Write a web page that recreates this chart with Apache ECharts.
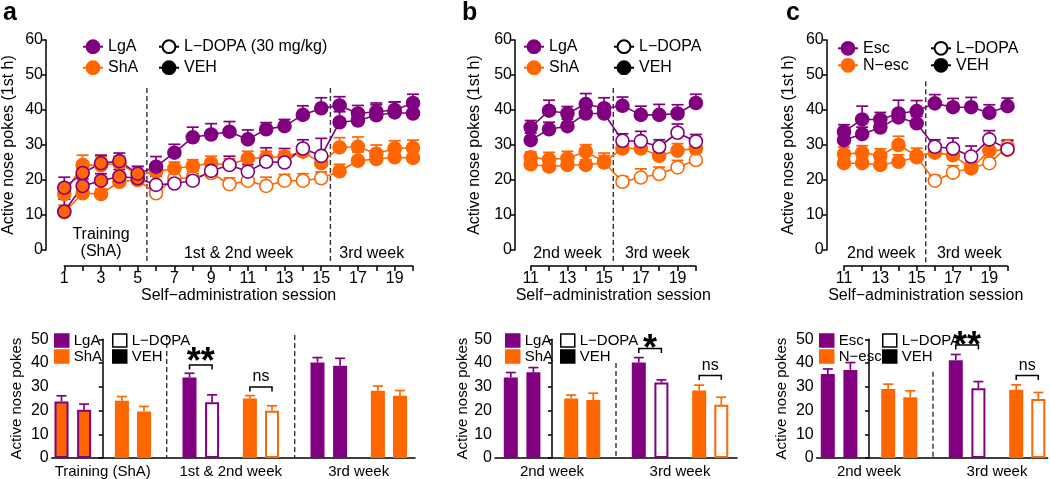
<!DOCTYPE html>
<html>
<head>
<meta charset="utf-8">
<script src="https://cdn.jsdelivr.net/npm/echarts@6.0.0/dist/echarts.min.js"></script>
<style>html,body{margin:0;padding:0;background:#fff;}#chart{width:1050px;height:479px;}</style>
</head>
<body>
<div id="chart"></div>
<script>
// ================= DATA =================
// Panel a (top) – sessions 1–20
const aSessions  = [1,2,3,4,5,6,7,8,9,10,11,12,13,14,15,16,17,18,19,20];
const aLgaVeh    = [17.8,22.0,24.8,25.4,21.8,23.8,27.8,32.2,33.0,33.8,31.6,34.5,35.4,38.6,40.5,41.3,39.0,39.5,40.0,42.0];
const aLgaVehSem = [3.0,2.5,2.3,2.3,2.0,2.9,2.4,2.9,3.1,2.9,2.7,1.9,1.9,2.6,3.0,2.5,2.3,2.5,2.3,2.5];
const aLgaLd     = [11.0,18.3,19.8,21.0,20.5,18.6,19.0,19.8,22.6,24.3,22.4,25.2,25.0,29.0,26.9,36.5,37.0,38.5,39.3,39.0];
const aLgaLdSem  = [3.5,2.0,2.0,2.0,2.0,2.5,2.0,2.0,3.0,2.5,2.0,4.0,4.0,2.5,5.0,3.0,3.0,3.0,3.0,3.0];
const aShaVeh    = [16.0,24.3,24.2,24.8,21.5,22.4,23.3,24.0,24.8,24.3,26.2,26.4,26.7,28.1,24.8,29.3,29.5,27.5,29.0,29.2];
const aShaVehSem = [2.0,2.8,2.5,2.0,2.5,1.5,1.8,1.8,2.0,1.8,2.0,1.8,1.5,1.5,2.0,2.8,2.8,2.5,2.2,2.2];
const aShaLd     = [10.8,16.2,16.0,19.5,20.0,16.2,20.5,20.5,22.0,18.8,19.8,18.3,19.8,19.8,20.5,22.5,25.5,26.0,26.5,26.3];
const aShaLdSem  = [2.0,1.5,1.5,1.5,1.5,1.5,2.0,2.0,2.0,1.8,1.8,2.5,1.8,2.0,1.8,2.0,2.5,2.5,2.5,2.5];
const aTrainingLast = 5;   // sessions 1–5 training (ShA)
const aTreatLast = 15;     // sessions 6–15 treatment

// Panel b (top) – sessions 11–20
const bSessions  = [11,12,13,14,15,16,17,18,19,20];
const bLgaVeh    = [35.0,39.8,39.0,41.7,40.5,41.2,38.6,38.6,39.0,42.0];
const bLgaVehSem = [2.0,3.0,2.0,3.0,3.0,2.5,2.5,3.0,2.5,2.5];
const bLgaLd     = [31.4,34.5,35.4,39.0,39.0,31.2,31.1,29.5,33.5,31.0];
const bLgaLdSem  = [2.0,2.0,2.0,2.5,2.0,2.0,2.8,2.0,2.5,2.0];
const bShaVeh    = [26.5,25.9,26.2,28.1,25.2,29.0,29.0,26.9,28.4,29.0];
const bShaVehSem = [1.5,2.0,2.0,2.0,2.5,2.0,2.0,2.8,2.0,2.5];
const bShaLd     = [24.5,23.8,24.3,24.3,25.0,19.5,20.7,21.7,23.6,25.7];
const bShaLdSem  = [2.0,2.0,2.0,1.5,2.0,1.5,2.5,2.0,2.0,2.0];

// Panel c (top) – sessions 11–20
const cSessions  = [11,12,13,14,15,16,17,18,19,20];
const cEscVeh    = [33.8,37.3,37.3,39.0,39.7,41.9,40.8,40.8,39.2,41.1];
const cEscVehSem = [2.0,3.8,2.0,3.8,3.0,2.5,2.5,2.8,2.3,2.3];
const cEscLd     = [31.4,33.1,35.0,37.9,36.2,29.5,29.0,26.7,31.6,28.8];
const cEscLdSem  = [2.0,2.0,2.0,2.0,2.0,2.0,3.0,3.0,2.5,2.5];
const cNescVeh   = [27.4,27.8,26.9,30.0,26.9,27.8,27.1,23.3,28.4,28.6];
const cNescVehSem= [2.0,2.0,2.0,2.5,2.2,2.0,2.2,2.0,2.0,2.5];
const cNescLd    = [24.8,24.8,24.3,25.2,26.5,19.8,22.1,23.5,24.8,29.5];
const cNescLdSem = [1.5,1.5,1.5,2.0,1.5,1.5,2.0,1.5,1.5,2.0];
const bcPreLast = 15;      // sessions 11–15 before treatment, 16–20 treatment

// Bottom bar panels
const aBarCats = ['Training (ShA)','1st & 2nd week','3rd week'];
const aBarLgaVeh = [23.8,33.9,40.2], aBarLgaVehSem = [2.4,1.8,2.1];
const aBarLgaLd  = [20.3,23.5,38.9], aBarLgaLdSem  = [2.4,3.1,3.1];
const aBarShaVeh = [24.1,25.1,28.3], aBarShaVehSem = [1.8,1.2,2.0];
const aBarShaLd  = [19.6,19.9,26.2], aBarShaLdSem  = [2.1,2.1,2.2];

const bBarCats = ['2nd week','3rd week'];
const bBarLgaVeh = [33.9,40.2], bBarLgaVehSem = [2.1,2.1];
const bBarLgaLd  = [36.1,31.8], bBarLgaLdSem  = [2.0,1.1];
const bBarShaVeh = [25.1,28.4], bBarShaVehSem = [1.4,2.3];
const bBarShaLd  = [24.4,22.4], bBarShaLdSem  = [2.9,3.2];

const cBarCats = ['2nd week','3rd week'];
const cBarEscVeh  = [35.4,41.2], cBarEscVehSem  = [2.1,2.4];
const cBarEscLd   = [37.1,29.4], cBarEscLdSem   = [3.1,2.8];
const cBarNescVeh = [29.1,28.7], cBarNescVehSem = [2.0,2.1];
const cBarNescLd  = [25.6,24.8], cBarNescLdSem  = [2.7,2.8];

const topYTicks = [0,10,20,30,40,50,60];
const botYTicks = [0,10,20,30,40,50];

// ================= STYLE =================
const PURPLE = '#800080', ORANGE = '#ff6600', WHITE = '#ffffff';
const FONT = '"Liberation Sans", Arial, Helvetica, sans-serif';
const AX = {color:'#000', width:1.5};

const chart = echarts.init(document.getElementById('chart'));

const grids = [
  {left:63.3,  top:40,    width:349.7, height:210},
  {left:530.7, top:40,    width:165.2, height:210},
  {left:844,   top:40,    width:163.5, height:210},
  {left:51.7,  top:339.3, width:363.3, height:119},
  {left:495,   top:339.3, width:242,   height:119},
  {left:816.7, top:339.3, width:231,   height:119}
];
const GROUP_PX = 128;
const botFirstCenter = [102.7, 552, 869];
const BAR_OFF_PX = [-41.2,-18.6,19.2,41.3];

function topX(gi, sessions, offset) {
  return {gridIndex:gi, type:'value', min:sessions[0], max:sessions[sessions.length-1], interval:1,
    offset:offset,
    axisLine:{show:true, onZero:false, lineStyle:AX},
    axisTick:{show:true, length:5, lineStyle:AX},
    axisLabel:{fontSize:16, fontFamily:FONT, color:'#000', margin:5,
      formatter:v=> (v % 2 === 1 ? String(v) : '')},
    splitLine:{show:false},
    name:'Self\u2212administration session', nameLocation:'middle', nameGap:17,
    nameTextStyle:{fontSize:16, fontFamily:FONT, color:'#000'}};
}
function topY(gi, offset, nameGap) {
  return {gridIndex:gi, type:'value', min:topYTicks[0], max:topYTicks[topYTicks.length-1], interval:10,
    offset:offset,
    axisLine:{show:true, lineStyle:AX},
    axisTick:{show:true, length:4, lineStyle:AX},
    axisLabel:{fontSize:16, fontFamily:FONT, color:'#000', margin:3},
    splitLine:{show:false},
    name:'Active nose pokes (1st h)', nameLocation:'middle', nameGap:nameGap,
    nameTextStyle:{fontSize:16, fontFamily:FONT, color:'#000'}};
}
function botX(gi, pi, cats) {
  const g = grids[gi];
  const min = (g.left - botFirstCenter[pi]) / GROUP_PX;
  const max = min + g.width / GROUP_PX;
  return {gridIndex:gi, type:'value', min:min, max:max,
    axisLine:{show:true, onZero:false, lineStyle:AX},
    axisTick:{show:false},
    axisLabel:{fontSize:15, fontFamily:FONT, color:'#000', margin:6,
      customValues:cats.map((c,i)=>i), formatter:v=>cats[Math.round(v)] || ''},
    splitLine:{show:false}};
}
function botY(gi, nameGap) {
  return {gridIndex:gi, type:'value', min:botYTicks[0], max:botYTicks[botYTicks.length-1], interval:10,
    axisLine:{show:true, lineStyle:AX},
    axisTick:{show:true, length:4, lineStyle:AX},
    axisLabel:{fontSize:16, fontFamily:FONT, color:'#000', margin:3},
    splitLine:{show:false},
    name:'Active nose pokes', nameLocation:'middle', nameGap:nameGap,
    nameTextStyle:{fontSize:15, fontFamily:FONT, color:'#000'}};
}

function errSeries(gi, pts, color, capHalf, z) {
  return {type:'custom', xAxisIndex:gi, yAxisIndex:gi, z:z, clip:false, silent:true,
    data:pts, encode:{x:0, y:1},
    renderItem:(p, api)=>{
      const x = api.value(0), y = api.value(1), e = api.value(2);
      const a = api.coord([x, y]), b = api.coord([x, y + e]);
      const st = {stroke:color, lineWidth:1.7};
      return {type:'group', children:[
        {type:'line', shape:{x1:a[0], y1:a[1], x2:b[0], y2:b[1]}, style:st},
        {type:'line', shape:{x1:b[0]-capHalf, y1:b[1], x2:b[0]+capHalf, y2:b[1]}, style:st}
      ]};
    }};
}
function dashSeries(gi, xs, yTop, extendPx) {
  return {type:'custom', xAxisIndex:gi, yAxisIndex:gi, z:0, clip:false, silent:true,
    data:xs.map(x=>[x, 0]), encode:{x:0, y:1},
    renderItem:(p, api)=>{
      const t = api.coord([api.value(0), yTop]), b = api.coord([api.value(0), 0]);
      return {type:'line', shape:{x1:t[0], y1:t[1], x2:b[0], y2:b[1] + extendPx},
        style:{stroke:'#333', lineWidth:1.4, lineDash:[5,3]}};
    }};
}
// fillFor(session, isLd, color) -> fill colour
function lineSeries(gi, sessions, vals, color, isLd, fillFor) {
  return {type:'line', xAxisIndex:gi, yAxisIndex:gi, z:3, clip:false, silent:true,
    symbol:'circle', symbolSize:13,
    lineStyle:{color:color, width:1.6},
    itemStyle:{borderWidth:1.6, borderColor:color, color:color},
    data:sessions.map((s, i)=>({value:[s, vals[i]],
      itemStyle:{color:fillFor(s, isLd, color), borderColor:color}}))};
}
const fillA = (s, ld, col)=> s <= aTrainingLast ? ORANGE : (s <= aTreatLast && ld ? WHITE : col);
const fillBC = (s, ld, col)=> (s > bcPreLast && ld) ? WHITE : col;

function groupTop(gi, sessions, groups, fillFor) {
  const out = [];
  groups.forEach(g=>{
    out.push(errSeries(gi, sessions.map((s,i)=>[s, g.vals[i], g.sem[i]]), g.color, 6, 2));
    out.push(lineSeries(gi, sessions, g.vals, g.color, g.ld, fillFor));
  });
  return out;
}
function groupBars(gi, groups, trainIdx, treatIdx) {
  const data = [];
  const out = [];
  groups.forEach((grp, k)=>{
    grp.vals.forEach((v, g)=>{
      const fill = g === trainIdx ? ORANGE : (g === treatIdx && grp.ld ? WHITE : grp.color);
      data.push({value:[g + BAR_OFF_PX[k]/GROUP_PX, v], itemStyle:{color:fill, borderColor:grp.color}});
    });
    out.push(errSeries(gi, grp.vals.map((v,g)=>[g + BAR_OFF_PX[k]/GROUP_PX, v, grp.sem[g]]), grp.color, 5, 1));
  });
  out.unshift({type:'bar', xAxisIndex:gi, yAxisIndex:gi, barWidth:14, z:2, silent:true,
    itemStyle:{borderWidth:2}, data:data});
  return out;
}

const series = [];
series.push(dashSeries(0, [aTrainingLast + 0.5, aTreatLast + 0.5], 46.3, 13));
series.push(dashSeries(1, [bcPreLast + 0.5], 46.3, 13));
series.push(dashSeries(2, [bcPreLast + 0.5], 48.2, 13));
series.push(...groupTop(0, aSessions, [
  {vals:aShaLd, sem:aShaLdSem, color:ORANGE, ld:true},
  {vals:aShaVeh, sem:aShaVehSem, color:ORANGE, ld:false},
  {vals:aLgaLd, sem:aLgaLdSem, color:PURPLE, ld:true},
  {vals:aLgaVeh, sem:aLgaVehSem, color:PURPLE, ld:false}], fillA));
series.push(...groupTop(1, bSessions, [
  {vals:bShaLd, sem:bShaLdSem, color:ORANGE, ld:true},
  {vals:bShaVeh, sem:bShaVehSem, color:ORANGE, ld:false},
  {vals:bLgaLd, sem:bLgaLdSem, color:PURPLE, ld:true},
  {vals:bLgaVeh, sem:bLgaVehSem, color:PURPLE, ld:false}], fillBC));
series.push(...groupTop(2, cSessions, [
  {vals:cNescLd, sem:cNescLdSem, color:ORANGE, ld:true},
  {vals:cNescVeh, sem:cNescVehSem, color:ORANGE, ld:false},
  {vals:cEscLd, sem:cEscLdSem, color:PURPLE, ld:true},
  {vals:cEscVeh, sem:cEscVehSem, color:PURPLE, ld:false}], fillBC));

series.push(dashSeries(3, [0.5, 1.5], 51.8, 0));
series.push(dashSeries(4, [0.5], 40, 0));
series.push(dashSeries(5, [0.5], 36.3, 0));
series.push(...groupBars(3, [
  {vals:aBarLgaVeh, sem:aBarLgaVehSem, color:PURPLE, ld:false},
  {vals:aBarLgaLd,  sem:aBarLgaLdSem,  color:PURPLE, ld:true},
  {vals:aBarShaVeh, sem:aBarShaVehSem, color:ORANGE, ld:false},
  {vals:aBarShaLd,  sem:aBarShaLdSem,  color:ORANGE, ld:true}], 0, 1));
series.push(...groupBars(4, [
  {vals:bBarLgaVeh, sem:bBarLgaVehSem, color:PURPLE, ld:false},
  {vals:bBarLgaLd,  sem:bBarLgaLdSem,  color:PURPLE, ld:true},
  {vals:bBarShaVeh, sem:bBarShaVehSem, color:ORANGE, ld:false},
  {vals:bBarShaLd,  sem:bBarShaLdSem,  color:ORANGE, ld:true}], -1, 1));
series.push(...groupBars(5, [
  {vals:cBarEscVeh,  sem:cBarEscVehSem,  color:PURPLE, ld:false},
  {vals:cBarEscLd,   sem:cBarEscLdSem,   color:PURPLE, ld:true},
  {vals:cBarNescVeh, sem:cBarNescVehSem, color:ORANGE, ld:false},
  {vals:cBarNescLd,  sem:cBarNescLdSem,  color:ORANGE, ld:true}], -1, 1));

// legend-only series
function legendLine(name, lineCol, fill, border) {
  return {type:'line', name:name, xAxisIndex:0, yAxisIndex:0, data:[], symbol:'circle', symbolSize:13,
    lineStyle:{color:lineCol, width:1.6}, itemStyle:{color:fill, borderColor:border, borderWidth:1.6}};
}
function legendBox(name, fill, border) {
  return {type:'line', name:name, xAxisIndex:0, yAxisIndex:0, data:[], symbol:'rect',
    lineStyle:{color:border, width:0}, itemStyle:{color:fill, borderColor:border, borderWidth:1.5}};
}
series.push(legendLine('LgA', PURPLE, PURPLE, PURPLE));
series.push(legendLine('ShA', ORANGE, ORANGE, ORANGE));
series.push(legendLine('Esc', PURPLE, PURPLE, PURPLE));
series.push(legendLine('N\u2212esc', ORANGE, ORANGE, ORANGE));
series.push(legendLine('L\u2212DOPA (30 mg/kg)', '#000', WHITE, '#000'));
series.push(legendLine('L\u2212DOPA', '#000', WHITE, '#000'));
series.push(legendLine('VEH', '#000', '#000', '#000'));
series.push(legendBox('LgA ', PURPLE, PURPLE));
series.push(legendBox('ShA ', ORANGE, ORANGE));
series.push(legendBox('Esc ', PURPLE, PURPLE));
series.push(legendBox('N\u2212esc ', ORANGE, ORANGE));
series.push(legendBox('L\u2212DOPA ', WHITE, '#000'));
series.push(legendBox('VEH ', '#000', '#000'));

function topLegend(names, left, top, gap) {
  return {data:names, left:left, top:top, orient:'vertical', padding:0, itemGap:gap,
    itemWidth:20, itemHeight:16, selectedMode:false,
    textStyle:{fontSize:16, fontFamily:FONT, color:'#000'}};
}
function boxLegend(items, left, top) {
  return {data:items.map(it=>({name:it[0], icon:'rect',
      itemStyle:{color:it[1], borderColor:it[2], borderWidth:1.5}})),
    left:left, top:top, orient:'vertical', padding:0, itemGap:1,
    itemWidth:14, itemHeight:13, selectedMode:false,
    textStyle:{fontSize:15, fontFamily:FONT, color:'#000'}};
}

const option = {
  animation:false,
  backgroundColor:'#fff',
  textStyle:{fontFamily:FONT},
  grid:grids,
  xAxis:[topX(0, aSessions, 16), topX(1, bSessions, 16), topX(2, cSessions, 16),
         botX(3, 0, aBarCats), botX(4, 1, bBarCats), botX(5, 2, cBarCats)],
  yAxis:[topY(0, 18.3, 29), topY(1, 15.7, 32), topY(2, 17.3, 30),
         botY(3, 27), botY(4, 22), botY(5, 27)],
  legend:[
    topLegend(['LgA','ShA'], 82, 38.7, 5),
    topLegend(['L\u2212DOPA (30 mg/kg)','VEH'], 158, 38.7, 5),
    topLegend(['LgA','ShA'], 523, 38.7, 5),
    topLegend(['L\u2212DOPA','VEH'], 613, 38.7, 5),
    topLegend(['Esc','N\u2212esc'], 837, 40.3, 1),
    topLegend(['L\u2212DOPA','VEH'], 930, 40.3, 1),
    boxLegend([['LgA ',PURPLE,PURPLE],['ShA ',ORANGE,ORANGE]], 54, 333),
    boxLegend([['L\u2212DOPA ',WHITE,'#000'],['VEH ','#000','#000']], 112, 333),
    boxLegend([['LgA ',PURPLE,PURPLE],['ShA ',ORANGE,ORANGE]], 505, 333),
    boxLegend([['L\u2212DOPA ',WHITE,'#000'],['VEH ','#000','#000']], 560, 333),
    boxLegend([['Esc ',PURPLE,PURPLE],['N\u2212esc ',ORANGE,ORANGE]], 819, 333),
    boxLegend([['L\u2212DOPA ',WHITE,'#000'],['VEH ','#000','#000']], 882, 333)
  ],
  series:series
};
chart.setOption(option);

// ---------- annotations ----------
function px(gi, x, y) { return chart.convertToPixel({gridIndex:gi}, [x, y]); }
function txt(x, y, s, size, bold) {
  return {type:'text', x:x, y:y, silent:true, z:10,
    style:{text:s, fontSize:size, fontFamily:FONT, fontWeight:bold ? 'bold' : 'normal',
      fill:'#000', align:'center', verticalAlign:'middle'}};
}
const gfx = [];
gfx.push(txt(px(0, 3, 0)[0], 235, 'Training', 16));
gfx.push(txt(px(0, 3, 0)[0], 252, '(ShA)', 16));
gfx.push(txt(px(0, (aTrainingLast + aTreatLast + 1) / 2, 0)[0], 254, '1st & 2nd week', 16));
gfx.push(txt(px(0, 17.75, 0)[0], 254, '3rd week', 16));
gfx.push(txt(px(1, 13.0, 0)[0], 253.5, '2nd week', 16));
gfx.push(txt(px(1, 17.9, 0)[0], 253.5, '3rd week', 16));
gfx.push(txt(px(2, 13.05, 0)[0], 253.5, '2nd week', 16));
gfx.push(txt(px(2, 17.9, 0)[0], 253.5, '3rd week', 16));
gfx.push({type:'text', x:3, y:13, silent:true, style:{text:'a', fontSize:25, fontWeight:'bold', fontFamily:FONT, fill:'#000', verticalAlign:'middle'}});
gfx.push({type:'text', x:462, y:13, silent:true, style:{text:'b', fontSize:25, fontWeight:'bold', fontFamily:FONT, fill:'#000', verticalAlign:'middle'}});
gfx.push({type:'text', x:786, y:13, silent:true, style:{text:'c', fontSize:25, fontWeight:'bold', fontFamily:FONT, fill:'#000', verticalAlign:'middle'}});

function bracket(gi, g, k1, k2, yLine, label, labelY, size, bold) {
  const x1 = px(gi, g + BAR_OFF_PX[k1]/GROUP_PX, 0)[0];
  const x2 = px(gi, g + BAR_OFF_PX[k2]/GROUP_PX, 0)[0];
  gfx.push({type:'polyline', silent:true, z:10,
    shape:{points:[[x1, yLine + 4.5],[x1, yLine],[x2, yLine],[x2, yLine + 4.5]]},
    style:{stroke:'#000', lineWidth:1.5, fill:null}});
  gfx.push(txt((x1 + x2) / 2, labelY, label, size, bold));
}
bracket(3, 1, 0, 1, 365, '**', 363.5, 36, true);
bracket(3, 1, 2, 3, 387, 'ns', 377, 16, false);
bracket(4, 1, 0, 1, 348.5, '*', 350.5, 36, true);
bracket(4, 1, 2, 3, 375.5, 'ns', 366, 16, false);
bracket(5, 1, 0, 1, 345, '**', 347.5, 36, true);
bracket(5, 1, 2, 3, 375.5, 'ns', 366, 16, false);
chart.setOption({graphic:gfx});
</script>
</body>
</html>
